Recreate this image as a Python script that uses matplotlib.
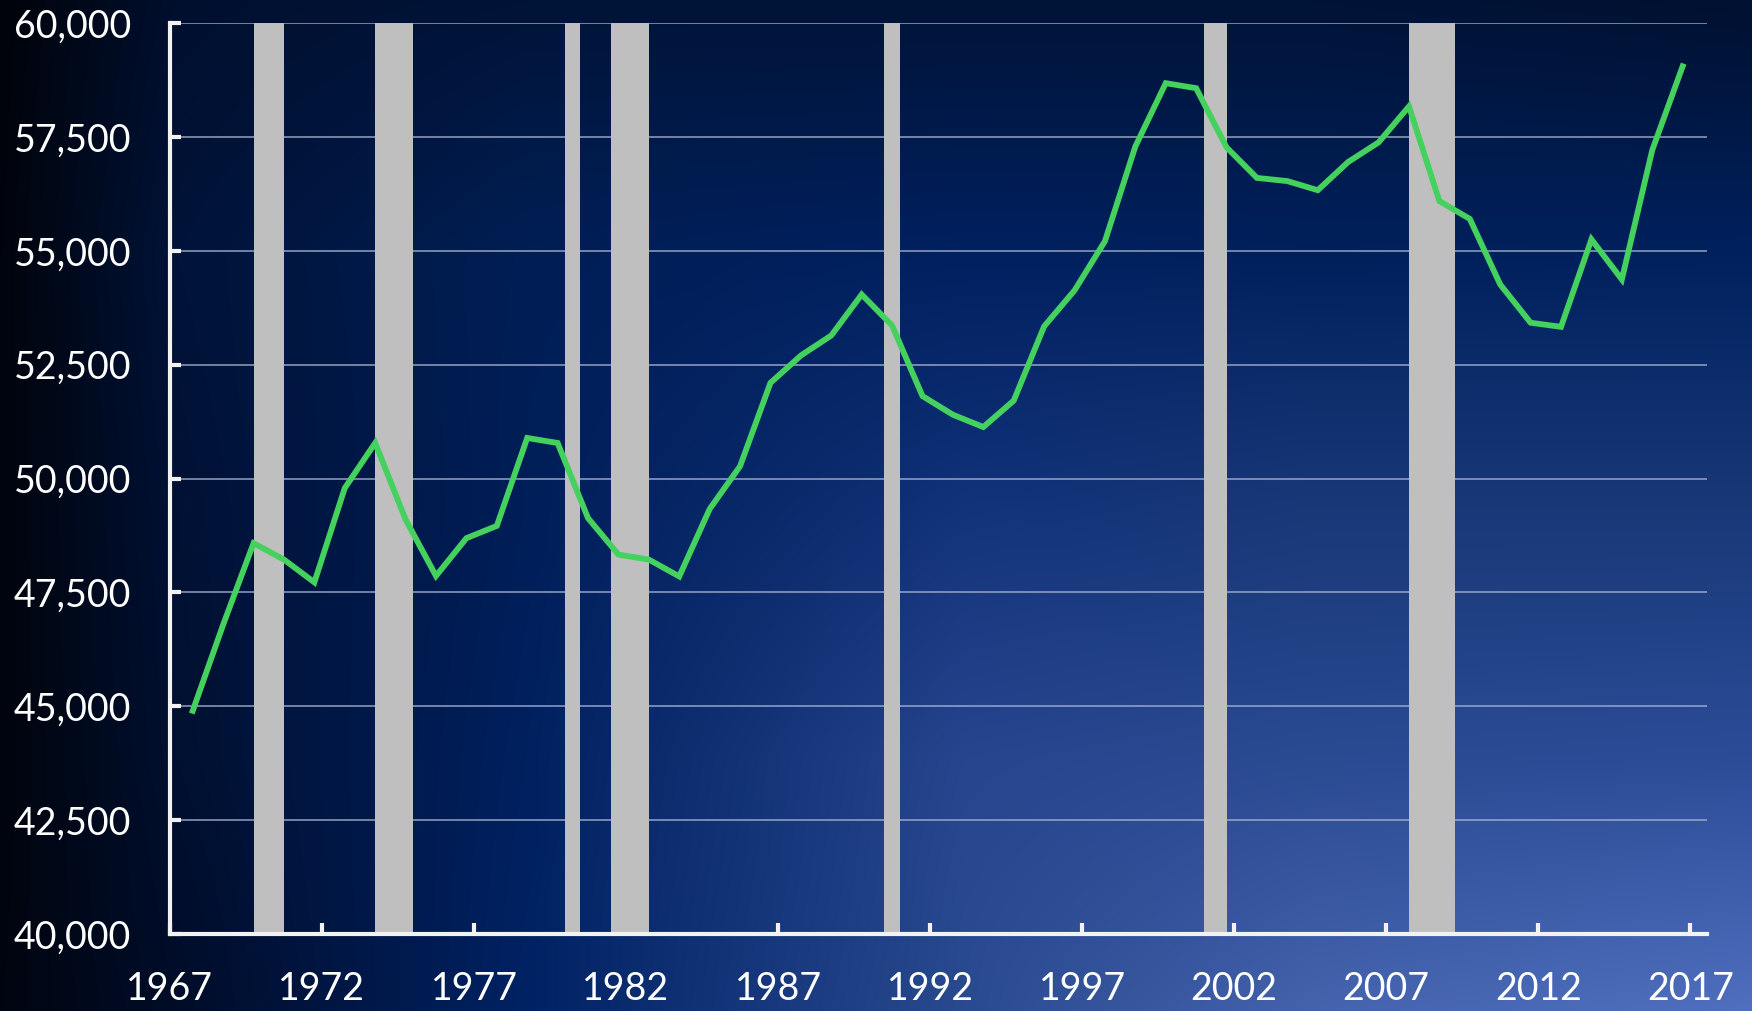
import matplotlib
matplotlib.use('Agg')
import matplotlib.pyplot as plt
import matplotlib.colors as mcolors
import numpy as np

# Median household income (real dollars), one value per year
years = list(range(1967, 2017))
income = [44900, 46790, 48580, 48220, 47720, 49790, 50780, 49100, 47860, 48690,
          48960, 50890, 50780, 49130, 48330, 48220, 47850, 49330, 50270, 52100,
          52700, 53140, 54040, 53360, 51810, 51400, 51130, 51710, 53340, 54130,
          55210, 57290, 58680, 58570, 57270, 56600, 56530, 56330, 56950, 57380,
          58170, 56090, 55700, 54260, 53420, 53330, 55250, 54370, 57210, 59050]

# Recessions (quarter boundaries, fractional years)
rec_start = [1969.75, 1973.75, 1980.0, 1981.5, 1990.5, 2001.0, 2007.75]
rec_end = [1970.75, 1975.0, 1980.5, 1982.75, 1991.0, 2001.75, 2009.25]

x_ticks = list(range(1967, 2018, 5))
y_ticks = list(range(40000, 60001, 2500))

# Background gradient: coarse colour grid (rows top->bottom)
bg_x = [0.0, 0.1, 0.3, 0.55, 0.75, 1.0]
bg_y = [0.0, 0.25, 0.5, 0.75, 1.0]
bg_rows = [
    ["#00030a", "#000f2e", "#001438", "#001438", "#001438", "#001030"],
    ["#00040c", "#001338", "#001e55", "#002060", "#00205c", "#00215e"],
    ["#00040c", "#001135", "#001e58", "#12327a", "#183878", "#183878"],
    ["#00040c", "#001030", "#00205f", "#26458e", "#2a4a92", "#2c4c98"],
    ["#000510", "#000c28", "#002264", "#2a4a90", "#4563ad", "#4f6fbf"],
]

OFFSET = 0.75  # annual points sit in Q4 of each year

plt.rcParams['font.family'] = ['Lato', 'DejaVu Sans']

fig = plt.figure(figsize=(17.52, 10.11), dpi=100)

# background
coarse = np.array([[mcolors.to_rgb(c) for c in row] for row in bg_rows])
fx = np.linspace(0, 1, 400)
fy = np.linspace(0, 1, 240)
tmp = np.stack([np.array([np.interp(fx, bg_x, coarse[r, :, ch]) for ch in range(3)]).T
                for r in range(len(bg_y))])
img = np.empty((len(fy), len(fx), 3))
for ch in range(3):
    for j in range(len(fx)):
        img[:, j, ch] = np.interp(fy, bg_y, tmp[:, j, ch])
bg = fig.add_axes([0, 0, 1, 1], zorder=0)
bg.imshow(img, extent=[0, 1, 0, 1], aspect='auto', interpolation='bilinear', origin='upper')
bg.axis('off')

ax = fig.add_axes([0.097, 0.0762, 0.8773, 0.901], zorder=1)
ax.set_facecolor('none')

for s, e in zip(rec_start, rec_end):
    ax.axvspan(s, e, color='#bfbfbf', lw=0, zorder=2)

ax.plot(np.array(years) + OFFSET, income, color='#44d15e', lw=4.2, zorder=3,
        solid_joinstyle='miter')

ax.set_xlim(1967, 2017.55)
ax.set_ylim(40000, 60000)
ax.set_xticks(x_ticks)
ax.set_yticks(y_ticks)
ax.set_yticklabels([f"{v:,}" for v in y_ticks])
ax.grid(axis='y', color='#a8b4d0', alpha=0.75, lw=1.3, zorder=1)
ax.grid(axis='x', visible=False)
ax.set_axisbelow(True)

for side in ['top', 'right']:
    ax.spines[side].set_visible(False)
for side in ['left', 'bottom']:
    ax.spines[side].set_color('#f2f2f2')
    ax.spines[side].set_linewidth(3)
    ax.spines[side].set_zorder(4)

ax.tick_params(axis='both', direction='in', length=8, width=3, color='#f2f2f2',
               labelcolor='white', labelsize=27)
ax.tick_params(axis='x', pad=27)
ax.tick_params(axis='y', pad=28)

fig.savefig('out.png', dpi=100)
